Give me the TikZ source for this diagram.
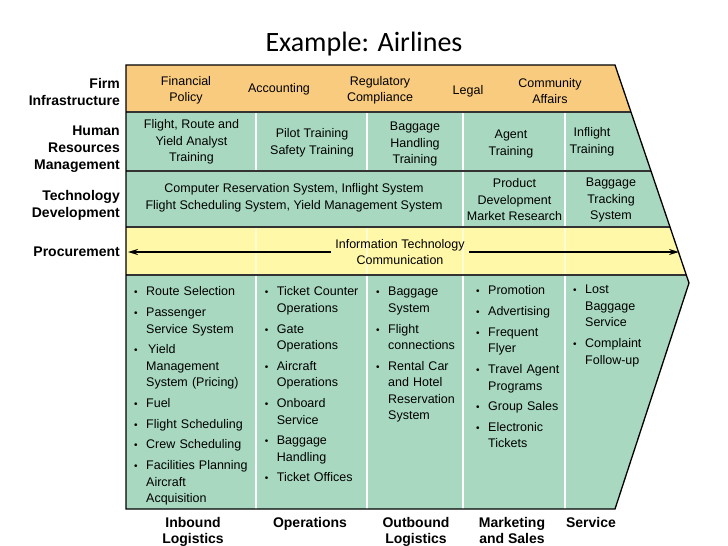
\documentclass[tikz,border=0pt]{standalone}
\usepackage{fontspec}
\setmainfont{Liberation Sans}
\newfontfamily\titlefont{Carlito}
\usepackage{xcolor}
\usepackage{tikz}
\usetikzlibrary{arrows.meta}

\definecolor{firmorange}{HTML}{F9CB7F}
\definecolor{chaingreen}{HTML}{A8D9C0}
\definecolor{procyellow}{HTML}{FFF8A8}

\newcommand{\itm}[1]{\par\hangindent=12pt\hangafter=1\noindent\makebox[12pt][l]{\fontsize{10}{10}\selectfont\textbullet}\strut#1}

\tikzset{
  sidelabel/.style={font=\bfseries\fontsize{14}{17}\selectfont, align=right, anchor=east, inner sep=0pt},
  actlabel/.style={font=\bfseries\fontsize{14}{16}\selectfont, align=center, anchor=north, inner sep=0pt},
  celltext/.style={font=\fontsize{12.5}{16.5}\selectfont, align=center, inner sep=0pt},
  itemlist/.style={font=\fontsize{12.5}{16.5}\selectfont, text width=118pt, align=left, anchor=north west, inner sep=0pt},
  bandline/.style={draw=black!80, line width=1.2pt},
  divider/.style={white, line width=2pt},
  itarrow/.style={line width=1.6pt, -{Stealth[length=10pt,width=6pt]}}
}

\begin{document}
\begin{tikzpicture}[x=1pt,y=-1pt]
\useasboundingbox (0,0) rectangle (728,546);
\node[font=\titlefont\fontsize{28}{30}\selectfont, anchor=base] (title) at (364,51) {Example: Airlines};

% coloured bands, cut to the arrow shape
\begin{scope}
\clip (126,65) -- (615,65) -- (689,283) -- (615,509) -- (126,509) -- cycle;
\fill[firmorange] (126,65) rectangle (700,112);
\fill[chaingreen] (126,112) rectangle (700,227);
\fill[procyellow] (126,227) rectangle (700,275);
\fill[chaingreen] (126,275) rectangle (700,509);

\draw[divider] (256,112) -- (256,171);
\draw[divider] (367,112) -- (367,171);
\draw[divider] (463,112) -- (463,227);
\draw[divider] (565,112) -- (565,227);
\draw[divider, opacity=0.5] (256,227) -- (256,275);
\draw[divider, opacity=0.5] (367,227) -- (367,275);
\draw[divider, opacity=0.5] (463,227) -- (463,275);
\draw[divider, opacity=0.5] (565,227) -- (565,275);
\draw[divider] (256,275) -- (256,509);
\draw[divider] (367,275) -- (367,509);
\draw[divider] (463,275) -- (463,509);
\draw[divider] (565,275) -- (565,509);

\draw[bandline] (126,112) -- (700,112);
\draw[bandline] (126,171) -- (700,171);
\draw[bandline] (126,227) -- (700,227);
\draw[bandline] (126,275) -- (700,275);
\end{scope}
\draw[line width=1.3pt] (126,65) -- (615,65) -- (689,283) -- (615,509) -- (126,509) -- cycle;

% support activities
\node[sidelabel] (firm) at (120,92) {Firm\\Infrastructure};
\node[sidelabel] (hrm) at (120,149) {Human\\Resources\\Management};
\node[sidelabel] (tech) at (120,205) {Technology\\Development};
\node[sidelabel] (proc) at (120,252) {Procurement};

\node[celltext] (fin) at (186,90.5) {Financial\\Policy};
\node[celltext] (acc) at (279,89) {Accounting};
\node[celltext] (reg) at (380,90.5) {Regulatory\\Compliance};
\node[celltext] (legal) at (468,91) {Legal};
\node[celltext] (comm) at (550,91) {Community\\Affairs};

\node[celltext] (hrflight) at (191.5,142) {Flight, Route and\\Yield Analyst\\Training};
\node[celltext] (hrpilot) at (312,143) {Pilot Training\\Safety Training};
\node[celltext] (hrbag) at (415,144) {Baggage\\Handling\\Training};
\node[celltext] (hragent) at (511,144) {Agent\\Training};
\node[celltext] (hrinfl) at (592,142) {Inflight\\Training};

\node[celltext] (tdsys) at (294,198) {Computer Reservation System, Inflight System\\Flight Scheduling System, Yield Management System};
\node[celltext] (tdprod) at (514.5,200) {Product\\Development\\Market Research};
\node[celltext] (tdbag) at (611,200) {Baggage\\Tracking\\System};

\node[celltext, inner sep=4pt] (itc) at (400,252) {Information Technology\\Communication};
\coordinate (itleft) at (128,252);
\coordinate (itright) at (679,252);
\draw[itarrow] (itc.west) -- (itleft);
\draw[itarrow] (itc.east) -- (itright);

% primary activities
\node[itemlist] (inblist) at (134,275) {\setlength{\parskip}{4.2pt}%
\itm{Route Selection}\itm{Passenger\newline Service System}\itm{\hspace{2pt}Yield\newline Management\newline System (Pricing)}\itm{Fuel}\itm{Flight Scheduling}\itm{Crew Scheduling}\itm{Facilities Planning\newline \hspace{1pt}Aircraft\newline \hspace{1pt}Acquisition}\par};
\node[itemlist] (opslist) at (264.7,275) {\setlength{\parskip}{4.2pt}%
\itm{Ticket Counter\newline Operations}\itm{Gate\newline Operations}\itm{Aircraft\newline Operations}\itm{Onboard\newline Service}\itm{Baggage\newline Handling}\itm{Ticket Offices}\par};
\node[itemlist] (outlist) at (376,275) {\setlength{\parskip}{4.2pt}%
\itm{Baggage\newline System}\itm{Flight\newline connections}\itm{Rental Car\newline and Hotel\newline Reservation\newline System}\par};
\node[itemlist] (mktlist) at (476,274) {\setlength{\parskip}{4.2pt}%
\itm{Promotion}\itm{Advertising}\itm{Frequent\newline Flyer}\itm{Travel Agent\newline Programs}\itm{Group Sales}\itm{Electronic\newline Tickets}\par};
\node[itemlist] (svclist) at (573,273) {\setlength{\parskip}{4.2pt}%
\itm{Lost\newline Baggage\newline Service}\itm{Complaint\newline Follow-up}\par};

\node[actlabel] (inb) at (193,517) {Inbound\\Logistics};
\node[actlabel] (ops) at (310,517) {Operations};
\node[actlabel] (outb) at (416,517) {Outbound\\Logistics};
\node[actlabel] (mkt) at (512,517) {Marketing\\and Sales};
\node[actlabel] (svc) at (591,517) {Service};
\end{tikzpicture}
\end{document}
